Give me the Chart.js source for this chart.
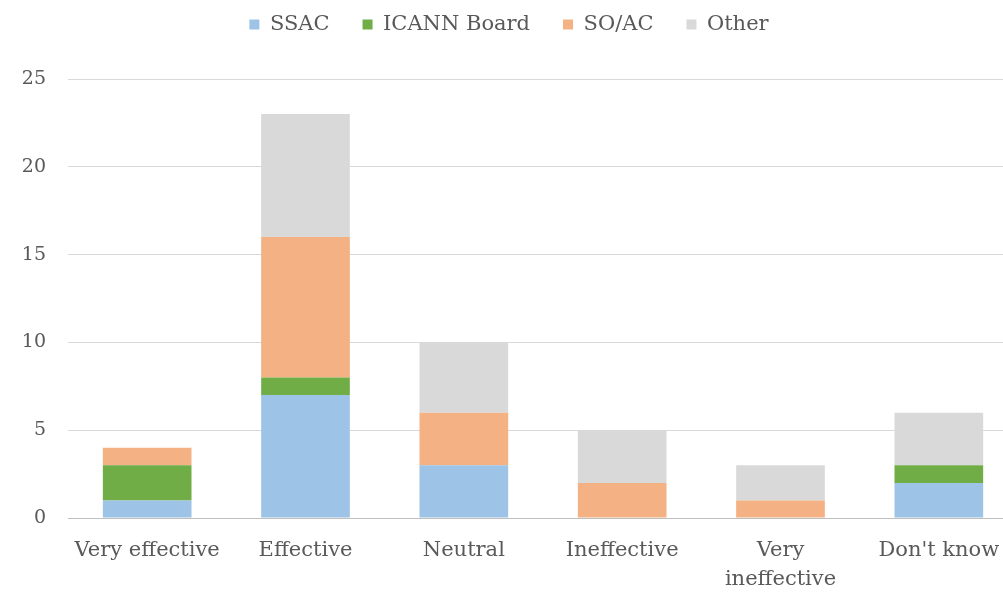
<!DOCTYPE html>
<html>
<head>
<meta charset="utf-8">
<script src="https://cdn.jsdelivr.net/npm/chart.js@4"></script>
<style>
  html, body { margin: 0; padding: 0; background: #fff; overflow: hidden; }
  #wrap { width: 1020px; height: 594px; position: relative; }
</style>
</head>
<body>
<div id="wrap"><canvas id="c"></canvas></div>
<script>
const categories = ['Very effective', 'Effective', 'Neutral', 'Ineffective', ['Very', 'ineffective'], "Don't know"];
const ssac = [1, 7, 3, 0, 0, 2];
const icannBoard = [2, 1, 0, 0, 0, 1];
const soac = [1, 8, 3, 2, 1, 0];
const other = [0, 7, 4, 3, 2, 3];
const yTicks = [0, 5, 10, 15, 20, 25];

const serif = "'DejaVu Serif', 'Liberation Serif', serif";
const textColor = '#595959';

const legendSpacer = {
  id: 'legendSpacer',
  beforeInit(chart) {
    const orig = chart.legend.fit;
    chart.legend.fit = function () {
      orig.call(this);
      this.height += 34;
    };
  }
};

new Chart(document.getElementById('c'), {
  type: 'bar',
  data: {
    labels: categories,
    datasets: [
      { label: 'SSAC', data: ssac, backgroundColor: '#9DC3E6' },
      { label: 'ICANN Board', data: icannBoard, backgroundColor: '#70AD47' },
      { label: 'SO/AC', data: soac, backgroundColor: '#F4B183' },
      { label: 'Other', data: other, backgroundColor: '#D9D9D9' }
    ]
  },
  plugins: [legendSpacer],
  options: {
    responsive: true,
    maintainAspectRatio: false,
    animation: false,
    layout: { padding: { top: -19, right: 2, left: 0, bottom: 0 } },
    datasets: { bar: { categoryPercentage: 1, barPercentage: 0.56 } },
    plugins: {
      legend: {
        position: 'top',
        labels: {
          boxWidth: 10, boxHeight: 10, padding: 33,
          color: textColor,
          font: { family: serif, size: 21 }
        }
      },
      tooltip: { enabled: false }
    },
    scales: {
      x: {
        stacked: true,
        grid: { display: false },
        border: { display: true, color: '#BFBFBF', width: 1 },
        ticks: {
          color: textColor, padding: 10, maxRotation: 0, autoSkip: false,
          font: { family: serif, size: 21, lineHeight: 1.38 }
        },
        afterFit: (s) => { s.height = 76; }
      },
      y: {
        stacked: true,
        min: 0, max: 25,
        afterBuildTicks: (s) => { s.ticks = yTicks.map(v => ({ value: v })); },
        grid: { color: '#D9D9D9', drawTicks: false },
        border: { display: false },
        ticks: {
          color: textColor, padding: 22,
          font: { family: serif, size: 19 }
        },
        afterFit: (s) => { s.width = 68; }
      }
    }
  }
});
</script>
</body>
</html>
